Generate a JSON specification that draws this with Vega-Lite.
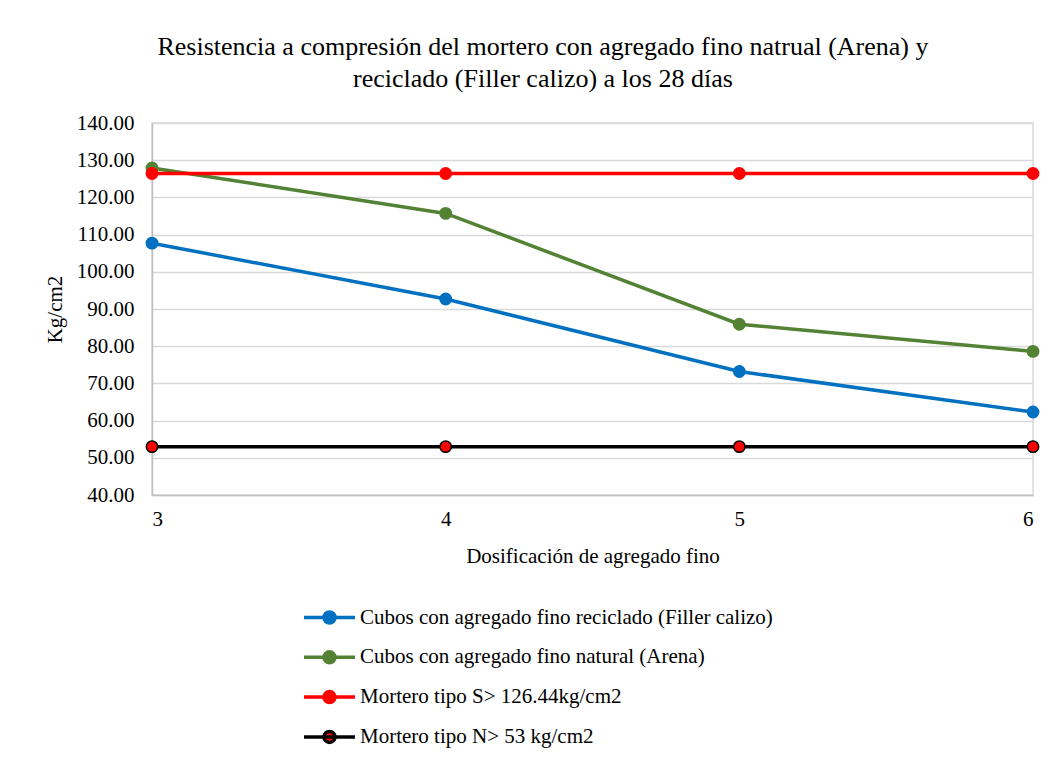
{
  "$schema": "https://vega.github.io/schema/vega-lite/v6.json",
  "width": 881,
  "height": 372,
  "autosize": {"type": "none"},
  "padding": {"left": 152, "top": 123, "right": 29, "bottom": 265},
  "background": "white",
  "config": {
    "view": {"stroke": "#d9d9d9", "strokeWidth": 1.5},
    "font": "Liberation Serif"
  },
  "title": {
    "text": ["Resistencia a compresión del mortero con agregado fino natrual (Arena) y", "reciclado (Filler calizo) a los 28 días"],
    "font": "Liberation Serif",
    "fontSize": 26,
    "fontWeight": "normal",
    "color": "#000000",
    "anchor": "middle",
    "frame": "bounds",
    "lineHeight": 32,
    "offset": 20
  },
  "data": {
    "values": [
      {"dosificacion": 3, "valor": 107.7, "serie": "Cubos con agregado fino reciclado (Filler calizo)"},
      {"dosificacion": 4, "valor": 92.7, "serie": "Cubos con agregado fino reciclado (Filler calizo)"},
      {"dosificacion": 5, "valor": 73.2, "serie": "Cubos con agregado fino reciclado (Filler calizo)"},
      {"dosificacion": 6, "valor": 62.3, "serie": "Cubos con agregado fino reciclado (Filler calizo)"},
      {"dosificacion": 3, "valor": 127.9, "serie": "Cubos con agregado fino natural (Arena)"},
      {"dosificacion": 4, "valor": 115.7, "serie": "Cubos con agregado fino natural (Arena)"},
      {"dosificacion": 5, "valor": 85.9, "serie": "Cubos con agregado fino natural (Arena)"},
      {"dosificacion": 6, "valor": 78.6, "serie": "Cubos con agregado fino natural (Arena)"},
      {"dosificacion": 3, "valor": 126.44, "serie": "Mortero tipo S> 126.44kg/cm2"},
      {"dosificacion": 4, "valor": 126.44, "serie": "Mortero tipo S> 126.44kg/cm2"},
      {"dosificacion": 5, "valor": 126.44, "serie": "Mortero tipo S> 126.44kg/cm2"},
      {"dosificacion": 6, "valor": 126.44, "serie": "Mortero tipo S> 126.44kg/cm2"},
      {"dosificacion": 3, "valor": 53, "serie": "Mortero tipo N> 53 kg/cm2"},
      {"dosificacion": 4, "valor": 53, "serie": "Mortero tipo N> 53 kg/cm2"},
      {"dosificacion": 5, "valor": 53, "serie": "Mortero tipo N> 53 kg/cm2"},
      {"dosificacion": 6, "valor": 53, "serie": "Mortero tipo N> 53 kg/cm2"}
    ]
  },
  "encoding": {
    "x": {
      "field": "dosificacion",
      "type": "quantitative",
      "scale": {"domain": [3, 6], "nice": false, "zero": false},
      "axis": {
        "values": [3, 4, 5, 6],
        "format": "d",
        "title": "Dosificación de agregado fino",
        "titleFont": "Liberation Serif",
        "titleFontSize": 21,
        "titleFontWeight": "normal",
        "titleColor": "#000000",
        "titlePadding": 16,
        "labelFont": "Liberation Serif",
        "labelFontSize": 21,
        "labelColor": "#000000",
        "labelPadding": 13,
        "ticks": false,
        "grid": false,
        "domainColor": "#bfbfbf",
        "domainWidth": 1.5
      }
    },
    "y": {
      "field": "valor",
      "type": "quantitative",
      "scale": {"domain": [40, 140], "nice": false, "zero": false},
      "axis": {
        "values": [40, 50, 60, 70, 80, 90, 100, 110, 120, 130, 140],
        "format": ".2f",
        "title": "Kg/cm2",
        "titleFont": "Liberation Serif",
        "titleFontSize": 21,
        "titleFontWeight": "normal",
        "titleColor": "#000000",
        "titlePadding": 11,
        "labelFont": "Liberation Serif",
        "labelFontSize": 21,
        "labelColor": "#000000",
        "labelPadding": 18,
        "ticks": false,
        "domainColor": "#bfbfbf",
        "domainWidth": 1.5,
        "gridColor": "#d9d9d9",
        "gridWidth": 1.5
      }
    }
  },
  "layer": [
    {
      "mark": {"type": "line", "strokeWidth": 3.5},
      "encoding": {
        "stroke": {
          "field": "serie",
          "type": "nominal",
          "sort": null,
          "scale": {
            "domain": ["Cubos con agregado fino reciclado (Filler calizo)", "Cubos con agregado fino natural (Arena)", "Mortero tipo S> 126.44kg/cm2", "Mortero tipo N> 53 kg/cm2"],
            "range": ["#0070c0", "#548235", "#ff0000", "#000000"]
          },
          "legend": {
            "title": null,
            "orient": "none",
            "legendX": 167,
            "legendY": 484,
            "direction": "vertical",
            "padding": 0,
            "symbolType": "M-5.1,0L5.1,0M1.1,0A1.1,1.1,0,1,1,-1.1,0A1.1,1.1,0,1,1,1.1,0Z",
            "symbolSize": 100,
            "symbolStrokeWidth": 3.5,
            "symbolOpacity": 1,
            "labelFont": "Liberation Serif",
            "labelFontSize": 21,
            "labelColor": "#000000",
            "labelOffset": 20,
            "labelLimit": 600,
            "rowPadding": 14.8
          }
        },
        "order": {"field": "dosificacion", "type": "quantitative"}
      }
    },
    {
      "mark": {"type": "point", "filled": true, "size": 130, "opacity": 1, "strokeWidth": 1.5},
      "encoding": {
        "stroke": {
          "field": "serie",
          "type": "nominal",
          "sort": null,
          "scale": {
            "domain": ["Cubos con agregado fino reciclado (Filler calizo)", "Cubos con agregado fino natural (Arena)", "Mortero tipo S> 126.44kg/cm2", "Mortero tipo N> 53 kg/cm2"],
            "range": ["#0070c0", "#548235", "#ff0000", "#000000"]
          }
        },
        "fill": {
          "field": "serie",
          "type": "nominal",
          "sort": null,
          "scale": {
            "domain": ["Cubos con agregado fino reciclado (Filler calizo)", "Cubos con agregado fino natural (Arena)", "Mortero tipo S> 126.44kg/cm2", "Mortero tipo N> 53 kg/cm2"],
            "range": ["#0070c0", "#548235", "#ff0000", "#ff0000"]
          },
          "legend": {
            "title": null,
            "orient": "none",
            "legendX": 167,
            "legendY": 484,
            "direction": "vertical",
            "padding": 0,
            "symbolType": "M-5.1,0L5.1,0M1.1,0A1.1,1.1,0,1,1,-1.1,0A1.1,1.1,0,1,1,1.1,0Z",
            "symbolSize": 100,
            "symbolStrokeWidth": 3.5,
            "symbolOpacity": 1,
            "labelFont": "Liberation Serif",
            "labelFontSize": 21,
            "labelColor": "#000000",
            "labelOffset": 20,
            "labelLimit": 600,
            "rowPadding": 14.8
          }
        }
      }
    }
  ]
}
